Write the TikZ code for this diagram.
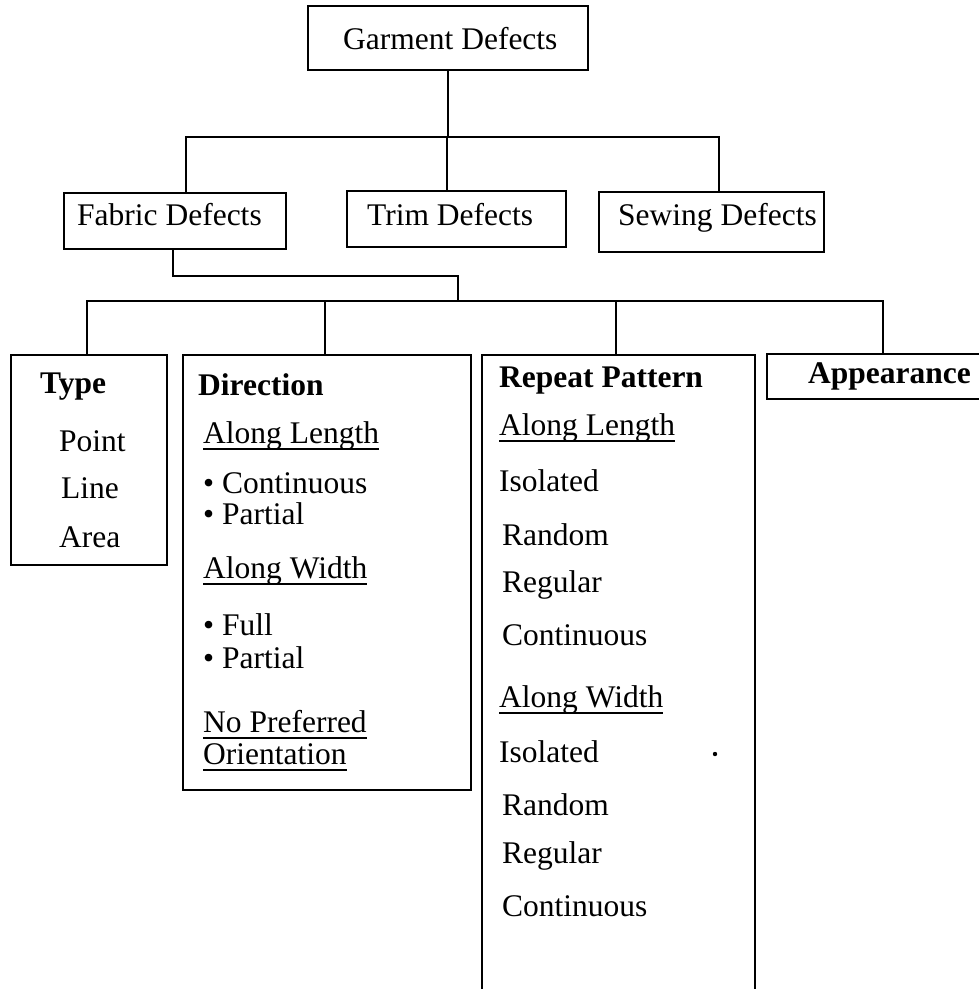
\documentclass[tikz,border=0pt]{standalone}
\usepackage{fontspec}
\setmainfont{Liberation Serif}
\newcommand{\myul}[1]{\setbox0\hbox{#1}\rlap{\rule[-6.5pt]{\wd0}{1.8pt}}\box0}
\tikzset{
  box/.style={draw, line width=2.2pt, inner sep=0pt, rectangle},
  txt/.style={anchor=base west, inner sep=0pt, font=\fontsize{31.5}{38}\selectfont},
  btxt/.style={txt, font=\fontsize{31.5}{38}\selectfont\bfseries},
  conn/.style={line width=2.2pt},
}
\begin{document}
\begin{tikzpicture}[x=1pt, y=-1pt]
\useasboundingbox (0,0) rectangle (979,989);
% boxes
\node[box, minimum width=280pt, minimum height=64pt] (garment) at (448,38) {};
\node[box, minimum width=222pt, minimum height=56pt] (fabric) at (175,221) {};
\node[box, minimum width=219pt, minimum height=56pt] (trim) at (456.5,219) {};
\node[box, minimum width=225pt, minimum height=60pt] (sewing) at (711.5,222) {};
\node[box, minimum width=156pt, minimum height=210pt] (type) at (89,460) {};
\node[box, minimum width=288pt, minimum height=435pt] (direction) at (327,572.5) {};
\node[box, minimum width=273pt, minimum height=660pt] (repeat) at (618.5,685) {};
\node[box, minimum width=223pt, minimum height=45pt] (app) at (878.5,376.5) {};
% titles
\node[txt] (tg) at (343,49) {Garment Defects};
\node[txt] (tf) at (77,225) {Fabric Defects};
\node[txt] (tt) at (367,225) {Trim Defects};
\node[txt] (ts) at (618,225) {Sewing Defects};
% type
\node[btxt] (ty0) at (40,393) {Type};
\node[txt] (ty1) at (59,451) {Point};
\node[txt] (ty2) at (61,498) {Line};
\node[txt] (ty3) at (59,547) {Area};
% direction
\node[btxt] (d0) at (198,395) {Direction};
\node[txt] (d1) at (203,443) {\myul{Along Length}};
\node[txt] (d2) at (203,493) {\textbullet\ Continuous};
\node[txt] (d3) at (203,524) {\textbullet\ Partial};
\node[txt] (d4) at (203,578) {\myul{Along Width}};
\node[txt] (d5) at (203,635) {\textbullet\ Full};
\node[txt] (d6) at (203,668) {\textbullet\ Partial};
\node[txt] (d7) at (203,732) {\myul{No Preferred}};
\node[txt] (d8) at (203,764) {\myul{Orientation}};
% repeat pattern
\node[btxt] (r0) at (499,387) {Repeat Pattern};
\node[txt] (r1) at (499,435) {\myul{Along Length}};
\node[txt] (r2) at (499,491) {Isolated};
\node[txt] (r3) at (502,545) {Random};
\node[txt] (r4) at (502,592) {Regular};
\node[txt] (r5) at (502,645) {Continuous};
\node[txt] (r6) at (499,707) {\myul{Along Width}};
\node[txt] (r7) at (499,762) {Isolated};
\node[txt] (r8) at (502,815) {Random};
\node[txt] (r9) at (502,863) {Regular};
\node[txt] (r10) at (502,916) {Continuous};
\fill (715,754) circle (2.2pt);
% appearance
\node[btxt] (a0) at (808,383) {Appearance};
% connectors
\coordinate (bus1) at (448,137);
\coordinate (elb) at (458,276);
\coordinate (bus2) at (458,301);
\draw[conn] (garment.south) -- (bus1);
\draw[conn] ([xshift=11pt]fabric.north) |- (bus1) -| ([xshift=7.5pt]sewing.north);
\draw[conn] ([xshift=-9.5pt]trim.north) -- ([xshift=-9.5pt]trim.north |- bus1);
\draw[conn] ([xshift=-2pt]fabric.south) |- (elb) -- (bus2);
\draw[conn] ([xshift=-2pt]type.north) |- (bus2) -| ([xshift=4.5pt]app.north);
\draw[conn] ([xshift=-2pt]direction.north) -- ([xshift=-2pt]direction.north |- bus2);
\draw[conn] ([xshift=-2.5pt]repeat.north) -- ([xshift=-2.5pt]repeat.north |- bus2);
\end{tikzpicture}
\end{document}
